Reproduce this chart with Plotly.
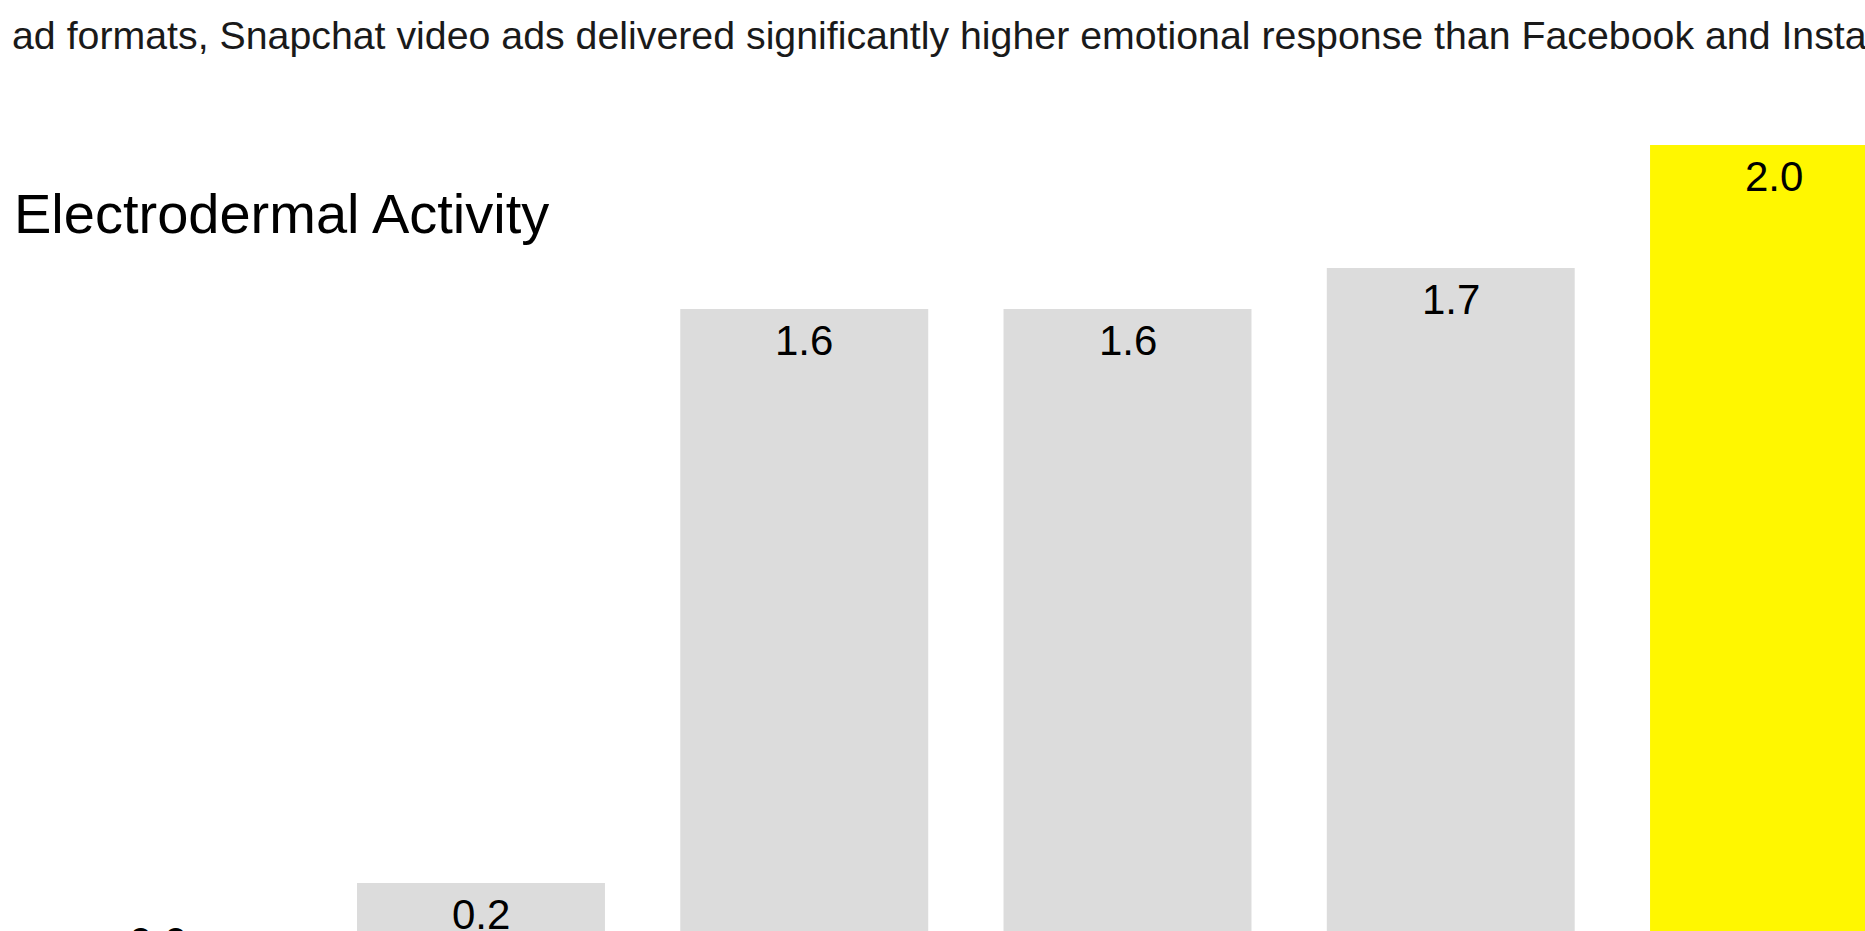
import plotly.graph_objects as go

# Electrodermal activity by ad format
categories = ["Baseline", "Display", "Facebook", "Instagram", "YouTube", "Snapchat"]
values = [0.0, 0.2, 1.6, 1.6, 1.7, 2.0]
bar_colors = ["#DCDCDC", "#DCDCDC", "#DCDCDC", "#DCDCDC", "#DCDCDC", "#FFF700"]
value_labels = [f"{v:.1f}" for v in values]

subtitle = ("ad formats, Snapchat video ads delivered significantly higher "
            "emotional response than Facebook and Instagram.")
title = "Electrodermal Activity"

# The view starts a little above zero, so the baseline sits below the frame
Y_RANGE = [0.0829, 2.3537]
X_RANGE = [-0.488, 5.2815]

FONT = "Liberation Sans, Arial, Helvetica, sans-serif"
LABEL_FONT = dict(family=FONT, size=42, color="#000000")


def y_to_paper(v):
    return (v - Y_RANGE[0]) / (Y_RANGE[1] - Y_RANGE[0])


fig = go.Figure(
    go.Bar(
        x=categories,
        y=values,
        marker=dict(color=bar_colors, line=dict(width=0)),
        hoverinfo="skip",
    )
)

annotations = [
    dict(
        text=subtitle,
        xref="paper", yref="paper",
        x=10 / 1865, y=1 - 35.5 / 931,
        xanchor="left", yanchor="middle",
        showarrow=False,
        font=dict(family=FONT, size=39.3, color="#1A1A1A"),
    ),
    dict(
        text=title,
        xref="paper", yref="paper",
        x=12 / 1865, y=1 - 213.6 / 931,
        xanchor="left", yanchor="middle",
        showarrow=False,
        font=dict(family=FONT, size=56, color="#000000"),
    ),
]

for c, v, t in zip(categories, values, value_labels):
    if v == 0:
        # empty bar: value printed just above the baseline
        annotations.append(
            dict(
                text=t,
                x=c, y=y_to_paper(v),
                xref="x", yref="paper",
                xanchor="center", yanchor="bottom",
                yshift=-3,
                showarrow=False,
                font=LABEL_FONT,
            )
        )
    else:
        # value printed inside the top of the bar
        annotations.append(
            dict(
                text=t,
                x=c, y=v,
                xref="x", yref="y",
                xanchor="center", yanchor="top",
                yshift=-6,
                showarrow=False,
                font=LABEL_FONT,
            )
        )

fig.update_layout(
    width=1865,
    height=931,
    margin=dict(l=0, r=0, t=0, b=0),
    paper_bgcolor="#FFFFFF",
    plot_bgcolor="#FFFFFF",
    bargap=0.233,
    showlegend=False,
    xaxis=dict(
        range=X_RANGE,
        showticklabels=False,
        showgrid=False,
        zeroline=False,
        showline=False,
        ticks="",
    ),
    yaxis=dict(
        range=Y_RANGE,
        showticklabels=False,
        showgrid=False,
        zeroline=False,
        showline=False,
        ticks="",
    ),
    annotations=annotations,
)

fig.write_html("out.html")
